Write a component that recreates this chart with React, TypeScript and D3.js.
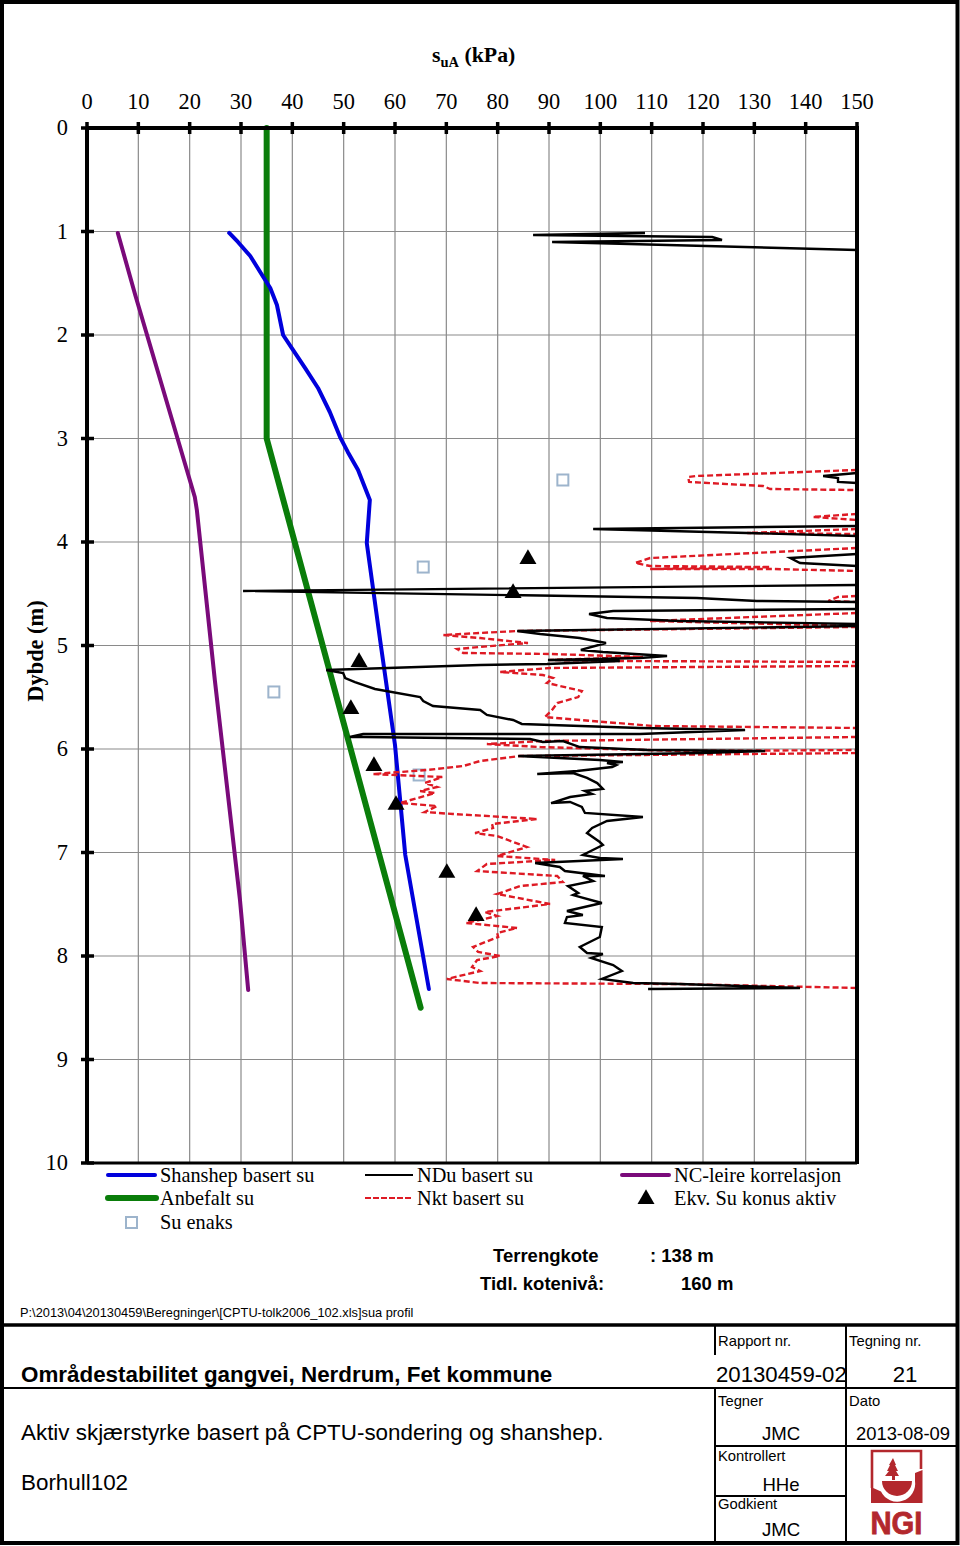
import React from "react";
import * as d3 from "d3";

type P = [number, number];

const suTicks = [0,10,20,30,40,50,60,70,80,90,100,110,120,130,140,150];
const depthTicks = [0,1,2,3,4,5,6,7,8,9,10];

const shanshep: P[] = [[27.7,1.014],[29.4,1.101],[31.8,1.237],[34.1,1.42],[35.7,1.546],[37.0,1.71],[37.6,1.855],[38.2,2.0],[39.9,2.126],[42.5,2.319],[45.0,2.512],[47.3,2.744],[49.3,2.986],[50.8,3.13],[52.8,3.304],[55.1,3.594],[54.5,4.01],[57.1,4.947],[60.0,5.961],[62.0,7.024],[66.6,8.319]];
const anbefalt: P[] = [[35,0],[35,3],[65,8.5]];
const ncLeire: P[] = [[6.0,1.014],[9.4,1.614],[21.0,3.565],[21.4,3.691],[24.9,5.333],[29.8,7.459],[31.4,8.329]];
const ekvTriangles: P[] = [[85.9,4.155],[83.0,4.483],[53.0,5.15],[51.4,5.604],[55.9,6.155],[60.2,6.531],[70.1,7.188],[75.8,7.604]];
const suEnaks: P[] = [[92.7,3.401],[65.5,4.242],[36.4,5.449],[64.7,6.251]];

const nduA: P[] = [[108.7,1.014],[86.9,1.034],[121.8,1.053],[123.7,1.082],[90.6,1.101],[150,1.179]];
const nduB: P[] = [[150,3.333],[143.4,3.362],[146.3,3.382],[146.3,3.42],[150,3.43]];
const nduC: P[] = [[150,3.845],[98.6,3.874],[128.6,3.913],[150,3.942]];
const nduD: P[] = [[150,4.116],[137.0,4.155],[138.9,4.203],[150,4.232]];
const nduE: P[] = [[150,4.415],[30.4,4.473],[118.8,4.541],[130.5,4.57],[150,4.58]];
const nduF: P[] = [[150,4.647],[102.5,4.667],[97.8,4.696],[101.3,4.734],[115.5,4.763],[150,4.792]];
const nduG: P[] = [[150,4.812],[83.8,4.86],[88.3,4.889],[96.0,4.928],[101.1,4.976],[96.2,5.043],[100.5,5.063],[113.0,5.101],[107.7,5.121],[89.8,5.14],[103.8,5.15],[89.6,5.179],[76.6,5.188],[46.6,5.237],[49.9,5.266],[50.3,5.314],[52.2,5.353],[56.1,5.42],[64.9,5.498],[65.5,5.536],[67.4,5.585],[76.6,5.623],[77.9,5.671],[83.0,5.72],[84.7,5.758],[107.7,5.797],[128.2,5.816],[107.7,5.855],[53.8,5.855],[51.2,5.884],[53.8,5.884],[86.3,5.903],[88.8,5.932],[92.7,5.923],[96.0,5.981],[109.1,6.01],[132.1,6.019],[120.0,6.039],[84.0,6.068],[99.9,6.106],[104.4,6.126],[101.3,6.135],[103.1,6.155],[102.3,6.174],[95.5,6.213],[87.7,6.242],[94.7,6.232],[97.4,6.28],[99.4,6.329],[100.5,6.386],[97.0,6.406],[98.4,6.435],[94.1,6.464],[90.4,6.522],[94.1,6.512],[96.4,6.56],[97.0,6.618],[108.3,6.657],[101.3,6.696],[98.4,6.763],[97.4,6.812],[99.9,6.899],[100.5,6.928],[96.6,7.024],[99.9,7.053],[104.4,7.063],[87.3,7.101],[92.1,7.14],[93.1,7.179],[100.9,7.227],[96.6,7.227],[98.6,7.275],[93.7,7.324],[95.7,7.391],[94.7,7.411],[100.3,7.488],[93.5,7.565],[96.6,7.604],[93.5,7.623],[93.1,7.681],[100.3,7.72],[99.9,7.816],[96.0,7.913],[97.4,7.971],[100.5,7.981],[98.2,8.019],[102.5,8.087],[104.2,8.145],[100.3,8.222],[106.4,8.261],[115.5,8.271],[138.9,8.309],[109.3,8.319]];
const nduSegments = [nduA,nduB,nduC,nduD,nduE,nduF,nduG];

const nktA: P[] = [[150,3.304],[118.8,3.362],[117.1,3.372],[117.3,3.42],[131.7,3.459],[133.1,3.488],[150,3.498]];
const nktB: P[] = [[150,3.729],[141.4,3.758],[150,3.787]];
const nktC: P[] = [[150,3.874],[128.6,3.913],[150,3.923]];
const nktD: P[] = [[150,4.058],[109.7,4.155],[106.8,4.203],[109.7,4.232],[133.1,4.242],[109.7,4.261],[133.6,4.261],[150,4.28]];
const nktE: P[] = [[150,4.522],[146.3,4.531],[144.4,4.57],[150,4.58]];
const nktF: P[] = [[150,4.686],[109.7,4.763],[150,4.812]];
const nktG: P[] = [[150,4.821],[83.8,4.86],[76.6,4.879],[69.4,4.899],[76.6,4.928],[85.9,4.976],[76.6,5.014],[72.1,5.034],[73.3,5.072],[90.2,5.082],[108.3,5.111],[90.2,5.14],[103.8,5.15],[150,5.159]];
const nktH: P[] = [[150,5.198],[90.2,5.217],[80.5,5.256],[88.8,5.285],[90.8,5.314],[89.6,5.362],[96.4,5.44],[95.7,5.498],[91.6,5.556],[90.6,5.623],[89.2,5.691],[110.3,5.778],[150,5.797]];
const nktI: P[] = [[150,5.884],[88.8,5.923],[77.9,5.952],[88.3,5.981],[115.5,6.019],[150,6.01]];
const nktJ: P[] = [[150,6.039],[84.4,6.068],[76.6,6.116],[73.3,6.164],[66.2,6.203],[55.7,6.242],[69.2,6.271],[65.8,6.329],[68.2,6.367],[64.9,6.406],[67.8,6.425],[61.0,6.522],[68.2,6.551],[65.8,6.609],[71.3,6.628],[87.7,6.676],[78.9,6.725],[79.1,6.763],[75.6,6.812],[79.9,6.841],[85.7,6.947],[79.9,7.034],[91.2,7.072],[77.9,7.111],[76.0,7.179],[91.6,7.227],[92.7,7.285],[84.4,7.324],[79.9,7.401],[90.2,7.498],[77.5,7.575],[79.9,7.614],[73.8,7.681],[83.8,7.729],[79.9,7.778],[80.1,7.816],[75.2,7.913],[76.2,7.961],[80.5,8.0],[76.0,8.039],[75.0,8.106],[76.6,8.145],[70.1,8.222],[76.6,8.261],[115.5,8.271],[150,8.309]];
const nktSegments = [nktA,nktB,nktC,nktD,nktE,nktF,nktG,nktH,nktI,nktJ];

const legendRow1 = ["Shanshep basert su","NDu basert su","NC-leire korrelasjon"];
const legendRow2 = ["Anbefalt su","Nkt basert su","Ekv. Su konus aktiv"];
const legendRow3 = ["Su enaks"];

const BLUE = "#0000dc";
const GREEN = "#0a7d0a";
const PURPLE = "#7a0a7a";
const RED = "#de1a24";
const LOGO = "#b3282d";
const SERIF = "'Liberation Serif'";
const SANS = "'Liberation Sans'";

const x = d3.scaleLinear().domain([0,150]).range([87,857]);
const y = d3.scaleLinear().domain([0,10]).range([128,1163]);
const line = d3.line<P>().x(d => x(d[0])).y(d => y(d[1]));
const tri = d3.symbol().type(d3.symbolTriangle).size(125);

export default function App() {
  return (
    <svg width={960} height={1546} style={{position:"absolute",left:0,top:0,background:"#fff"}}>
      <rect x={2} y={2} width={955.5} height={1541} fill="none" stroke="#000" strokeWidth={4}/>
      {/* grid */}
      {suTicks.slice(1,-1).map(t => <line key={t} x1={x(t)} x2={x(t)} y1={y(0)} y2={y(10)} stroke="#8a8a8a" strokeWidth={1.2}/>)}
      {depthTicks.slice(1,-1).map(t => <line key={t} x1={x(0)} x2={x(150)} y1={y(t)} y2={y(t)} stroke="#8a8a8a" strokeWidth={1.2}/>)}
      {/* series */}
      <path d={line(anbefalt)!} fill="none" stroke={GREEN} strokeWidth={6} strokeLinecap="round" strokeLinejoin="round"/>
      <path d={line(ncLeire)!} fill="none" stroke={PURPLE} strokeWidth={4} strokeLinecap="round" strokeLinejoin="round"/>
      <path d={line(shanshep)!} fill="none" stroke={BLUE} strokeWidth={4} strokeLinecap="round" strokeLinejoin="round"/>
      {suEnaks.map((d,i) => <rect key={i} x={x(d[0])-5.5} y={y(d[1])-5.5} width={11} height={11} fill="none" stroke="#9db4cc" strokeWidth={2}/>)}
      {nktSegments.map((s,i) => <path key={i} d={line(s)!} fill="none" stroke={RED} strokeWidth={2.4} strokeDasharray="6 3"/>)}
      {nduSegments.map((s,i) => <path key={i} d={line(s)!} fill="none" stroke="#000" strokeWidth={2.4}/>)}
      {ekvTriangles.map((d,i) => <path key={i} d={tri()!} transform={`translate(${x(d[0])},${y(d[1])+1})`} fill="#000"/>)}
      {/* axes */}
      <line x1={x(0)} x2={x(150)+2} y1={y(0)} y2={y(0)} stroke="#000" strokeWidth={4}/>
      <line x1={x(0)} x2={x(0)} y1={y(0)} y2={y(10)+1} stroke="#000" strokeWidth={4}/>
      <line x1={x(150)} x2={x(150)} y1={y(0)} y2={y(10)+1} stroke="#000" strokeWidth={4}/>
      <line x1={x(0)} x2={x(150)} y1={y(10)} y2={y(10)} stroke="#000" strokeWidth={3}/>
      {suTicks.map(t => <line key={t} x1={x(t)} x2={x(t)} y1={y(0)-6} y2={y(0)+6} stroke="#000" strokeWidth={3.5}/>)}
      {depthTicks.map(t => <line key={t} x1={81} x2={94} y1={y(t)} y2={y(t)} stroke="#000" strokeWidth={3.5}/>)}
      <g fontFamily={SERIF} fontSize={22.4} fill="#000">
        {suTicks.map(t => <text key={t} x={x(t)} y={109} textAnchor="middle">{t}</text>)}
        {depthTicks.map(t => <text key={t} x={68} y={y(t)+7} textAnchor="end">{t}</text>)}
      </g>
      <text x={432} y={62} fontFamily={SERIF} fontSize={21.8} fontWeight="bold">s<tspan dy={5} fontSize={14.5}>uA</tspan><tspan dy={-5}> (kPa)</tspan></text>
      <text transform="translate(43,651) rotate(-90)" textAnchor="middle" fontFamily={SERIF} fontSize={22.4} fontWeight="bold">Dybde (m)</text>
      {/* legend */}
      <g fill="none" strokeLinecap="round">
        <line x1={108} x2={155} y1={1175} y2={1175} stroke={BLUE} strokeWidth={4}/>
        <line x1={108} x2={156} y1={1198} y2={1198} stroke={GREEN} strokeWidth={6}/>
        <line x1={365} x2={413} y1={1175} y2={1175} stroke="#000" strokeWidth={2.2} strokeLinecap="butt"/>
        <line x1={365} x2={413} y1={1198} y2={1198} stroke={RED} strokeWidth={2.2} strokeDasharray="6 2" strokeLinecap="butt"/>
        <line x1={622} x2={669} y1={1175} y2={1175} stroke={PURPLE} strokeWidth={4}/>
        <rect x={126} y={1217} width={11} height={11} stroke="#9db4cc" strokeWidth={2}/>
      </g>
      <path d={tri()!} transform="translate(646,1199)" fill="#000"/>
      <g fontFamily={SERIF} fontSize={20.3} fill="#000">
        {legendRow1.map((t,i) => <text key={t} x={[160,417,674][i]} y={1182}>{t}</text>)}
        {legendRow2.map((t,i) => <text key={t} x={[160,417,674][i]} y={1205}>{t}</text>)}
        {legendRow3.map(t => <text key={t} x={160} y={1229}>{t}</text>)}
      </g>
      {/* info */}
      <g fontFamily={SANS} fontSize={18.5} fontWeight="bold" fill="#000">
        <text x={493} y={1262}>Terrengkote</text>
        <text x={650} y={1262}>: 138 m</text>
        <text x={480} y={1290}>Tidl. kotenivå:</text>
        <text x={681} y={1290}>160 m</text>
      </g>
      <text x={20} y={1317} fontFamily={SANS} fontSize={12.8} fill="#000">{"P:\\2013\\04\\20130459\\Beregninger\\[CPTU-tolk2006_102.xls]sua profil"}</text>
      {/* title block */}
      <g stroke="#000" fill="none">
        <line x1={3} x2={957} y1={1325} y2={1325} strokeWidth={3.5}/>
        <line x1={3} x2={957} y1={1388} y2={1388} strokeWidth={2}/>
        <line x1={715} x2={715} y1={1325} y2={1355} strokeWidth={2}/>
        <line x1={715} x2={715} y1={1388} y2={1543} strokeWidth={2}/>
        <line x1={846} x2={846} y1={1325} y2={1543} strokeWidth={2}/>
        <line x1={715} x2={957} y1={1446} y2={1446} strokeWidth={2}/>
        <line x1={715} x2={846} y1={1496} y2={1496} strokeWidth={2}/>
      </g>
      <g fontFamily={SANS} fill="#000">
        <text x={21} y={1382} fontSize={22.4} fontWeight="bold">Områdestabilitet gangvei, Nerdrum, Fet kommune</text>
        <text x={21} y={1440} fontSize={22.4}>Aktiv skjærstyrke basert på CPTU-sondering og shanshep.</text>
        <text x={21} y={1490} fontSize={22.4}>Borhull102</text>
        <text x={718} y={1346} fontSize={14.8}>Rapport nr.</text>
        <text x={849} y={1346} fontSize={14.8}>Tegning nr.</text>
        <text x={716} y={1382} fontSize={22.2}>20130459-02</text>
        <text x={905} y={1382} fontSize={22.2} textAnchor="middle">21</text>
        <text x={718} y={1406} fontSize={14.8}>Tegner</text>
        <text x={849} y={1406} fontSize={14.8}>Dato</text>
        <text x={781} y={1440} fontSize={18.6} textAnchor="middle">JMC</text>
        <text x={903} y={1440} fontSize={18.4} textAnchor="middle">2013-08-09</text>
        <text x={718} y={1461} fontSize={14.8}>Kontrollert</text>
        <text x={781} y={1491} fontSize={18.6} textAnchor="middle">HHe</text>
        <text x={718} y={1509} fontSize={14.8}>Godkient</text>
        <text x={781} y={1536} fontSize={18.6} textAnchor="middle">JMC</text>
      </g>
      {/* NGI logo */}
      <g fill={LOGO}>
        <path d="M872 1488 V1451 H921 V1469" fill="none" stroke={LOGO} strokeWidth={2.6}/>
        <path d="M871 1487 L881 1491.5 A18 18 0 0 0 915 1481 V1473 L922.5 1470 V1503 H871 Z"/>
        <path d="M882 1481 H912 A15 15 0 0 1 882 1481 Z"/>
        <path d="M893 1458 L896 1465 H895 L898 1471 H896 L899 1476 H895 V1480 H892 V1476 H885 L889 1471 H887 L890 1465 H889 Z"/>
        <text x={896.5} y={1534} textAnchor="middle" fontFamily={SANS} fontWeight="bold" fontSize={32} textLength={52} lengthAdjust="spacingAndGlyphs" stroke={LOGO} strokeWidth={0.8}>NGI</text>
      </g>
    </svg>
  );
}
